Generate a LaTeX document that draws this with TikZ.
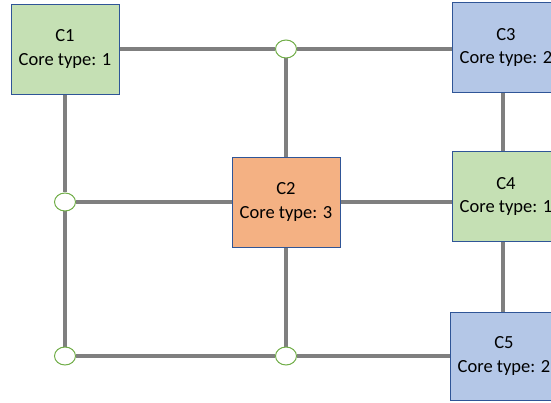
\documentclass[tikz,border=0pt]{standalone}
\usepackage{fontspec}
\setmainfont{Carlito}
\usetikzlibrary{shapes.geometric,backgrounds}

\definecolor{coregreen}{HTML}{C5E0B4}
\definecolor{coreblue}{HTML}{B4C7E7}
\definecolor{coreorange}{HTML}{F4B183}
\definecolor{coreedge}{HTML}{2F5597}
\definecolor{linkgray}{HTML}{7F7F7F}
\definecolor{junctiongreen}{HTML}{70AD47}

\tikzset{
  core/.style={draw=coreedge, line width=0.8pt, minimum width=108pt, minimum height=90pt,
    align=center, font=\fontsize{18.5}{23.5}\selectfont},
  link/.style={draw=linkgray, line width=4pt},
  junction/.style={ellipse, draw=junctiongreen, fill=white, line width=1pt,
    minimum width=21pt, minimum height=18pt, inner sep=0pt},
}

\begin{document}
\begin{tikzpicture}[x=1pt, y=-1pt]
    \useasboundingbox (0,0) rectangle (551,403);

    % cores
    \node[core, fill=coregreen] (c1) at (65,49) {C1\\Core type: 1};
    \node[core, fill=coreorange] (c2) at (286,202) {C2\\Core type: 3};
    \node[core, fill=coreblue] (c3) at (506,47.5) {C3\\Core type: 2};
    \node[core, fill=coregreen] (c4) at (506,196.5) {C4\\Core type: 1};
    \node[core, fill=coreblue, minimum height=88pt] (c5) at (504,356) {C5\\Core type: 2};

    % junctions
    \node[junction] (j1) at (286,49) {};
    \node[junction] (j2) at (65,202) {};
    \node[junction] (j3) at (65,356) {};
    \node[junction] (j4) at (286,356) {};
    \coordinate (rail) at (503,0);

    % links
    \begin{pgfonlayer}{background}
    \draw[link] (c1) -- (j1);
    \draw[link] (j1) -- (j1 -| c3.west);
    \draw[link] (c1) -- (j2);
    \draw[link] (j2) -- (j3);
    \draw[link] (j2) -- (c2);
    \draw[link] (c2) -- (c2 -| c4.west);
    \draw[link] (j1) -- (c2);
    \draw[link] (c2) -- (j4);
    \draw[link] (j3) -- (j4);
    \draw[link] (j4) -- (j4 -| c5.west);
    \draw[link] (c3.south -| rail) -- (c4.north -| rail);
    \draw[link] (c4.south -| rail) -- (c5.north -| rail);
    \end{pgfonlayer}
\end{tikzpicture}
\end{document}
